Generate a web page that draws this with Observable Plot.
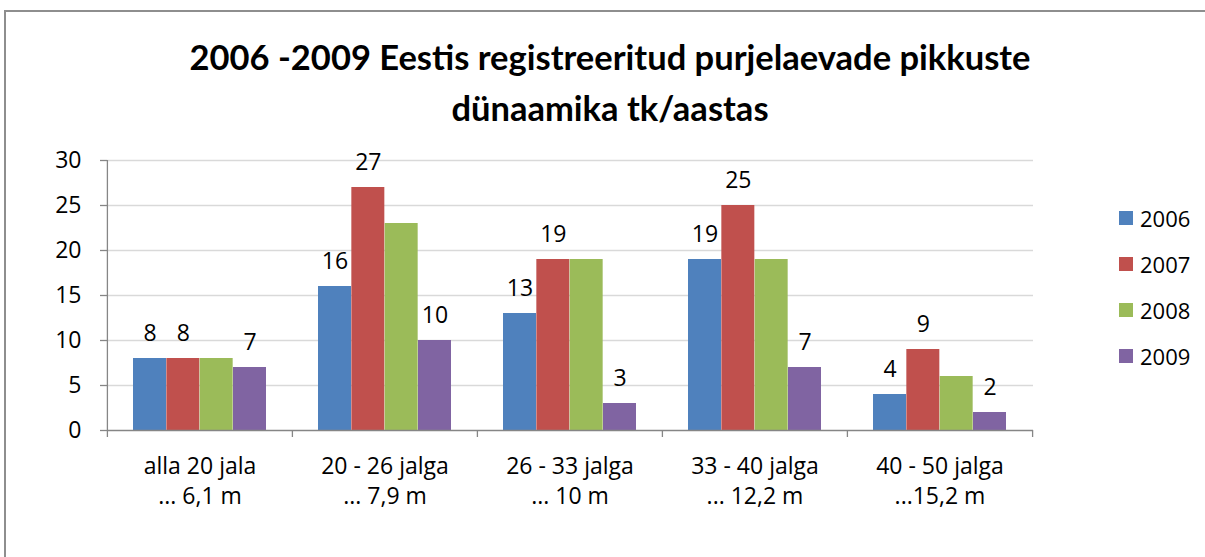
<!DOCTYPE html>
<html>
<head>
<meta charset="utf-8">
<script src="https://cdn.jsdelivr.net/npm/d3@7"></script>
<script src="https://cdn.jsdelivr.net/npm/@observablehq/plot@0.6"></script>
<style>
  body { margin: 0; background: #fff; }
  #root { position: relative; width: 1205px; height: 557px; overflow: hidden; font-family: "Open Sans", Lato, sans-serif; }
  #border { position: absolute; left: 4px; top: 10px; width: 1300px; height: 700px; border-left: 2px solid #8e8e8e; border-top: 2px solid #8e8e8e; }
  #title { position: absolute; left: 0; top: 31px; width: 1220px; text-align: center; font-family: Lato, "Open Sans", sans-serif; font-weight: bold; font-size: 34.5px; line-height: 51px; color: #000; }
  #chart { position: absolute; left: 0; top: 130px; }
  #legend { position: absolute; left: 1119px; top: 0; }
  .item { position: absolute; left: 0; white-space: nowrap; font-size: 22px; line-height: 26px; }
  .sw { position: absolute; left: 0; top: 6px; width: 14px; height: 14px; }
  .lbl { position: absolute; left: 21px; top: 0; }
</style>
</head>
<body>
<div id="root">
  <div id="border"></div>
  <div id="title">2006 -2009 Eestis registreeritud purjelaevade pikkuste<br>dünaamika tk/aastas</div>
  <div id="chart"></div>
  <div id="legend"></div>
</div>
<script>
const categories = ["alla 20 jala\n... 6,1 m", "20 - 26 jalga\n... 7,9 m", "26 - 33 jalga\n... 10 m", "33 - 40 jalga\n... 12,2 m", "40 - 50 jalga\n...15,2 m"];
const years = ["2006", "2007", "2008", "2009"];
const values2006 = [8, 16, 13, 19, 4];
const values2007 = [8, 27, 19, 25, 9];
const values2008 = [8, 23, 19, 19, 6];
const values2009 = [7, 10, 3, 7, 2];
const colors = ["#4F81BD", "#C0504D", "#9BBB59", "#8064A2"];
const showLabel = [true, true, false, true];
const yTicks = [0, 5, 10, 15, 20, 25, 30];

const series = [values2006, values2007, values2008, values2009];
const data = [];
series.forEach((vals, i) => vals.forEach((v, j) => data.push({cat: categories[j], year: years[i], yi: i, value: v})));

const W = 1205, H = 427, ML = 107, MR = 172, MT = 30, MB = 127;
const pInner = 0.28, pOuter = 0.14;
const step = (W - ML - MR) / (categories.length - pInner + 2 * pOuter);
const bw = step * (1 - pInner);
const sub = bw / years.length;
const axisColor = "#868686";
const font = "'Open Sans', Lato, sans-serif";

const marks = [
  Plot.gridY(yTicks.filter(d => d > 0), {stroke: "#d9d9d9", strokeOpacity: 1, strokeWidth: 1.3})
];
years.forEach((yr, i) => {
  marks.push(Plot.barY(data.filter(d => d.yi === i), {
    x: "cat", y: "value", fill: colors[i],
    insetLeft: i * sub, insetRight: (years.length - 1 - i) * sub
  }));
  if (showLabel[i]) {
    marks.push(Plot.text(data.filter(d => d.yi === i), {
      x: "cat", y: "value", text: d => String(d.value),
      dx: (i - (years.length - 1) / 2) * sub, dy: -25,
      fill: "#000", fontSize: 23
    }));
  }
});
marks.push(
  Plot.ruleY([0], {stroke: axisColor, strokeWidth: 1.3}),
  Plot.ruleX([categories[0]], {y1: 0, y2: 30, dx: -step / 2, stroke: axisColor, strokeWidth: 1.3}),
  Plot.ruleX(categories, {y1: 0, y2: -7 / 9, dx: -step / 2, stroke: axisColor, strokeWidth: 1.3}),
  Plot.ruleX([categories[categories.length - 1]], {y1: 0, y2: -7 / 9, dx: step / 2, stroke: axisColor, strokeWidth: 1.3}),
  Plot.axisY(yTicks, {tickSize: 7, tickPadding: 19, stroke: axisColor, strokeWidth: 1.3, fontSize: 23, fill: "#000", label: null}),
  Plot.axisX({tickSize: 0, tickPadding: 22, fontSize: 23, lineHeight: 1.32, fill: "#000", label: null})
);

const chart = Plot.plot({
  width: W, height: H,
  marginLeft: ML, marginRight: MR, marginTop: MT, marginBottom: MB,
  style: {fontFamily: font, fontSize: "23px", color: "#000", background: "transparent", overflow: "visible"},
  x: {type: "band", domain: categories, paddingInner: pInner, paddingOuter: pOuter, align: 0.5, label: null},
  y: {domain: [0, 30], label: null},
  marks
});
document.getElementById("chart").appendChild(chart);

const legendTops = [218, 264, 310, 356];
const legend = d3.select("#legend");
years.forEach((yr, i) => {
  const item = legend.append("div").attr("class", "item").style("top", (legendTops[i] - 13) + "px");
  item.append("div").attr("class", "sw").style("background", colors[i]);
  item.append("div").attr("class", "lbl").text(yr);
});
</script>
</body>
</html>
